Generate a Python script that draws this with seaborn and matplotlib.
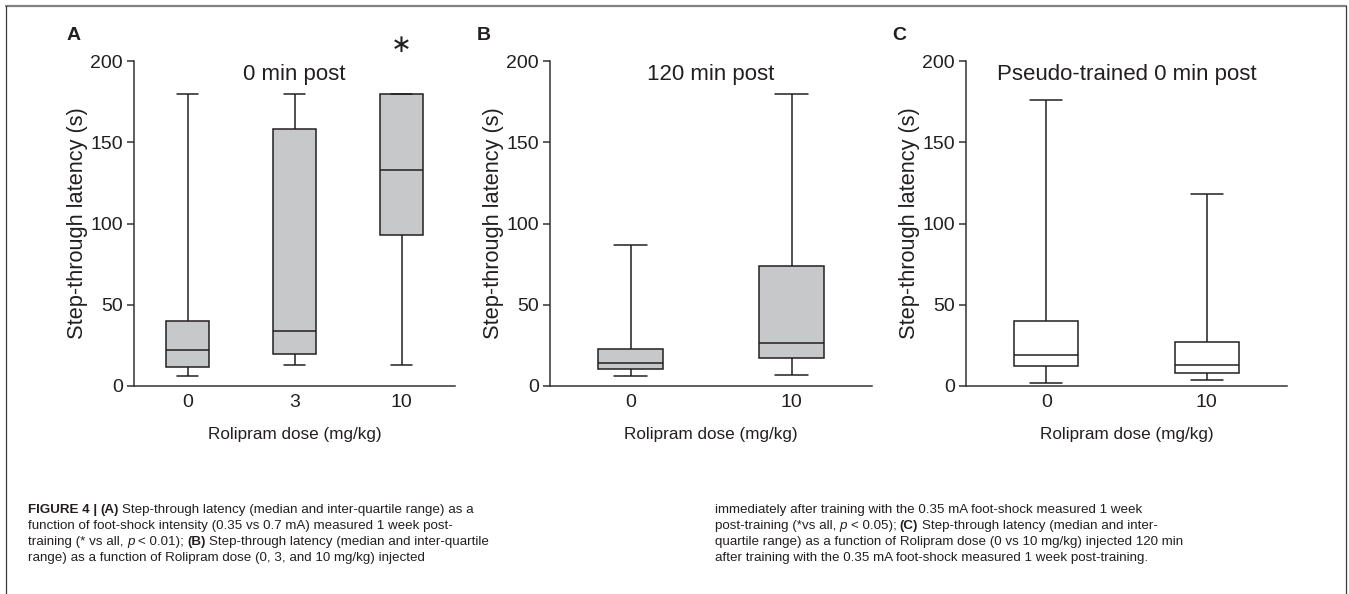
import numpy as np
import pandas as pd
import matplotlib
matplotlib.use('Agg')
import matplotlib.pyplot as plt
from matplotlib.lines import Line2D
from matplotlib import font_manager
import seaborn as sns

# five-number summaries (min, q1, median, q3, max)
doses_a = ['0', '3', '10']
a_min = [6, 13, 13]
a_q1 = [12, 19.5, 93]
a_med = [22, 34, 133]
a_q3 = [40, 158, 180]
a_max = [180, 180, 180]

doses_b = ['0', '10']
b_min = [6, 7]
b_q1 = [10.7, 17]
b_med = [14, 26.5]
b_q3 = [23, 74]
b_max = [87, 180]

doses_c = ['0', '10']
c_min = [2, 4]
c_q1 = [12.5, 8]
c_med = [19, 13]
c_q3 = [40, 27]
c_max = [176, 118]

titles = ['0 min post', '120 min post', 'Pseudo-trained 0 min post']
letters = ['A', 'B', 'C']


def to_long(doses, mn, q1, med, q3, mx):
    rows = []
    for i, d in enumerate(doses):
        for v in (mn[i], q1[i], med[i], q3[i], mx[i]):
            rows.append({'dose': d, 'latency': v})
    return pd.DataFrame(rows)


sns.set_style('ticks')
names = {f.name for f in font_manager.fontManager.ttflist}
narrow = 'Liberation Sans Narrow' if 'Liberation Sans Narrow' in names else 'Liberation Sans'
plt.rcParams['font.family'] = ['Liberation Sans', 'DejaVu Sans']

W, H = 1349, 594
fig = plt.figure(figsize=(W / 100, H / 100), dpi=100)

ink = '#231f20'
gray_fill = '#c7c8ca'

panels = [
    (134, 455, to_long(doses_a, a_min, a_q1, a_med, a_q3, a_max), doses_a, gray_fill),
    (550, 872, to_long(doses_b, b_min, b_q1, b_med, b_q3, b_max), doses_b, gray_fill),
    (966, 1287, to_long(doses_c, c_min, c_q1, c_med, c_q3, c_max), doses_c, 'white'),
]
top, bottom = 61, 386
xlab_size = 14.5 if narrow != 'Liberation Sans' else 12.3

for i, (x0, x1, df, order, fill) in enumerate(panels):
    ax = fig.add_axes([x0 / W, 1 - bottom / H, (x1 - x0) / W, (bottom - top) / H])
    sns.boxplot(data=df, x='dose', y='latency', order=order, whis=(0, 100),
                width=0.4, color=fill, linecolor=ink, linewidth=1.1,
                saturation=1, ax=ax)
    ax.set_ylim(0, 200)
    ax.set_xlim(-0.5, len(order) - 0.5)
    ax.set_yticks([0, 50, 100, 150, 200])
    sns.despine(ax=ax)
    for s in ('left', 'bottom'):
        ax.spines[s].set_color('#333333')
        ax.spines[s].set_linewidth(1.1)
    ax.tick_params(axis='y', length=5, width=1.1, color='#333333', pad=3,
                   labelsize=14, labelcolor=ink)
    ax.tick_params(axis='x', length=0, pad=6, labelsize=14, labelcolor=ink)
    ax.set_ylabel('Step-through latency (s)', fontsize=15.7, color=ink)
    ax.yaxis.set_label_coords(-0.142, 0.5)
    ax.set_xlabel('Rolipram dose (mg/kg)', fontsize=xlab_size, color=ink, family=narrow)
    ax.xaxis.set_label_coords(0.5, -0.125)
    ax.text(0.5, 0.957, titles[i], transform=ax.transAxes, ha='center',
            va='center', fontsize=16, color=ink)

    if i == 0:
        ax.text(2, 210, '\u2217', ha='center', va='center', fontsize=18,
                color=ink, family='DejaVu Sans', clip_on=False)

for (px, py), letter in zip([(74, 35), (484, 35), (899, 35)], letters):
    fig.text(px / W, 1 - py / H, letter, ha='center', va='center',
             fontsize=14, fontweight='bold', color=ink)

# frame around figure + caption
fig.add_artist(Line2D([6 / W, 1346 / W], [1 - 6 / H, 1 - 6 / H],
                      transform=fig.transFigure, color='#808080', lw=1.6))
for xx in (6, 1346):
    fig.add_artist(Line2D([xx / W, xx / W], [1 - 6 / H, 0],
                          transform=fig.transFigure, color='#3a3a3a', lw=0.9))

# caption, drawn piece by piece so bold / italic runs can be mixed
cap_ax = fig.add_axes([0, 0, 1, 1])
cap_ax.axis('off')
cap_size = 10.2 if narrow != 'Liberation Sans' else 9.65
gap = cap_size * 0.25

left_lines = [
    [('FIGURE 4 |', 'bold', 'normal'), ('(A)', 'bold', 'normal'),
     ('Step-through latency (median and inter-quartile range) as a', 'normal', 'normal')],
    [('function of foot-shock intensity (0.35 vs 0.7 mA) measured 1 week post-', 'normal', 'normal')],
    [('training (* vs all,', 'normal', 'normal'), ('p', 'normal', 'italic'),
     ('< 0.01);', 'normal', 'normal'), ('(B)', 'bold', 'normal'),
     ('Step-through latency (median and inter-quartile', 'normal', 'normal')],
    [('range) as a function of Rolipram dose (0, 3, and 10 mg/kg) injected', 'normal', 'normal')],
]
right_lines = [
    [('immediately after training with the 0.35 mA foot-shock measured 1 week', 'normal', 'normal')],
    [('post-training (*vs all,', 'normal', 'normal'), ('p', 'normal', 'italic'),
     ('< 0.05);', 'normal', 'normal'), ('(C)', 'bold', 'normal'),
     ('Step-through latency (median and inter-', 'normal', 'normal')],
    [('quartile range) as a function of Rolipram dose (0 vs 10 mg/kg) injected 120 min', 'normal', 'normal')],
    [('after training with the 0.35 mA foot-shock measured 1 week post-training.', 'normal', 'normal')],
]
line_bottoms = [516, 532, 548, 564]


def caption_line(x, y, parts):
    txt, wt, st = parts[0]
    prev = cap_ax.text(x / W, 1 - y / H, txt, transform=fig.transFigure,
                       ha='left', va='bottom', fontsize=cap_size, family=narrow,
                       fontweight=wt, fontstyle=st, color=ink)
    for txt, wt, st in parts[1:]:
        prev = cap_ax.annotate(txt, xy=(1, 0), xycoords=prev, xytext=(gap, 0),
                               textcoords='offset points', ha='left', va='bottom',
                               fontsize=cap_size, family=narrow, fontweight=wt,
                               fontstyle=st, color=ink)


for yb, parts in zip(line_bottoms, left_lines):
    caption_line(28, yb, parts)
for yb, parts in zip(line_bottoms, right_lines):
    caption_line(715, yb, parts)

fig.savefig('out.png', dpi=100)
